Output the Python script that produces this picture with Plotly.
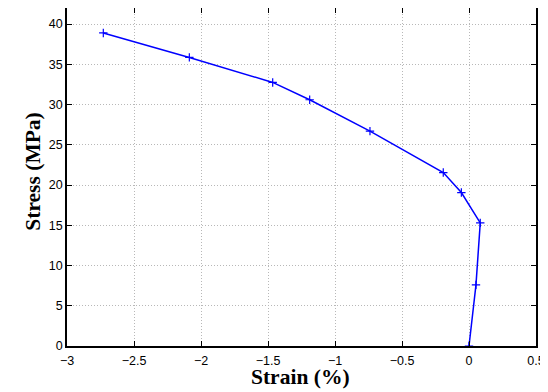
import plotly.graph_objects as go

strain = [0.0, 0.052, 0.084, -0.057, -0.192, -0.739, -1.189, -1.465, -2.087, -2.729]
stress = [0.0, 7.6, 15.3, 19.07, 21.55, 26.7, 30.6, 32.75, 35.86, 38.9]

x_ticks = [-3, -2.5, -2, -1.5, -1, -0.5, 0, 0.5]
x_tick_labels = ["\u22123", "\u22122.5", "\u22122", "\u22121.5", "\u22121", "\u22120.5", "0", "0.5"]
y_ticks = [0, 5, 10, 15, 20, 25, 30, 35, 40]

fig = go.Figure()
fig.add_trace(go.Scatter(
    x=strain, y=stress, mode="lines+markers",
    line=dict(color="#0000ff", width=1.5),
    marker=dict(symbol="cross-thin", size=6, line=dict(color="#0000ff", width=1.2), color="#0000ff"),
    showlegend=False,
))

axis_common = dict(
    showline=True, linecolor="black", linewidth=1.5, mirror="ticks",
    ticks="inside", ticklen=5, tickcolor="black", tickwidth=1,
    showgrid=True, gridcolor="#b8b8b8", griddash="1px,2px", gridwidth=1,
    zeroline=False, automargin=False,
    tickfont=dict(family="Liberation Sans, Arial, sans-serif", size=12.5, color="black"),
)

fig.update_xaxes(range=[-3, 0.5], tickvals=x_ticks, ticktext=x_tick_labels,
                 ticklabelstandoff=2, **axis_common)
fig.update_yaxes(range=[0, 42], tickvals=y_ticks, **axis_common)

title_font = dict(family="Liberation Serif, Times New Roman, serif", size=21.5, color="black")
fig.add_annotation(text="<b>Strain (%)</b>", xref="paper", yref="paper", x=0.497, y=-0.091,
                   xanchor="center", yanchor="middle", showarrow=False, font=title_font)
fig.add_annotation(text="<b>Stress (MPa)</b>", xref="paper", yref="paper", x=-0.073, y=0.515,
                   xanchor="center", yanchor="middle", showarrow=False, textangle=-90, font=title_font)

# the page body adds an 8px margin, so the figure is sized to fit the 548x392 window
fig.update_layout(
    width=540, height=384,
    margin=dict(l=59, r=12, t=0, b=46, autoexpand=False),
    plot_bgcolor="white", paper_bgcolor="white",
)

fig.write_html("out.html")
